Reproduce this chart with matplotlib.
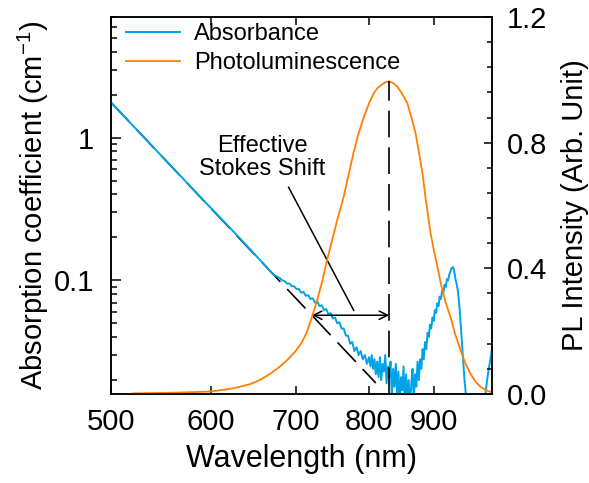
import matplotlib
matplotlib.use("Agg")
import matplotlib.pyplot as plt
import numpy as np
from matplotlib.ticker import (FixedLocator, FixedFormatter, LogLocator, MultipleLocator,
                               NullFormatter, NullLocator, FormatStrFormatter)

plt.rcParams['font.family'] = ['Liberation Sans', 'DejaVu Sans']
plt.rcParams['mathtext.default'] = 'regular'

# absorbance (left, log axis); one row of wl per row of val
abs_wl = [500, 540, 590, 630, 660, 672, 677, 680, 683, 686, 689, 692, 695, 698, 701, 704,
          707, 710, 713, 716, 719, 722, 725, 728, 731, 734, 737, 740, 743, 746, 749, 752,
          755, 758, 761, 764, 767, 770, 773, 776, 779, 782, 785, 788, 791, 794, 797, 800,
          802, 804, 806, 808, 810, 812, 814, 816, 818, 820, 822, 824, 826, 828, 830, 832,
          834, 836, 838, 840, 842, 844, 846, 848, 850, 852, 854, 856, 858, 860, 862, 864,
          866, 868, 870, 872, 874, 876, 878, 880, 882, 884, 886, 888, 890, 892, 894, 896,
          898, 900, 902, 904, 906, 908, 910, 912, 914, 916, 918, 920, 922, 924, 926, 928,
          930, 932, 934, 937, 940, 943, 946, 949, 952, 955, 958, 985, 989, 992, 995, 998,
          1000]
abs_val = [1.765, 0.858, 0.374, 0.204, 0.131, 0.110, 0.106, 0.104, 0.100, 0.099, 0.095, 0.095, 0.091, 0.091, 0.087, 0.087,
           0.082, 0.083, 0.078, 0.079, 0.074, 0.075, 0.070, 0.071, 0.066, 0.067, 0.062, 0.063, 0.058, 0.059, 0.054, 0.055,
           0.050, 0.051, 0.046, 0.046, 0.041, 0.041, 0.036, 0.037, 0.032, 0.034, 0.030, 0.032, 0.028, 0.030, 0.026, 0.029,
           0.025, 0.030, 0.024, 0.028, 0.022, 0.027, 0.021, 0.029, 0.020, 0.026, 0.023, 0.030, 0.019, 0.025, 0.021, 0.027,
           0.015, 0.024, 0.018, 0.026, 0.016, 0.023, 0.014, 0.021, 0.017, 0.025, 0.013, 0.022, 0.015, 0.020, 0.012, 0.019,
           0.024, 0.014, 0.022, 0.018, 0.027, 0.020, 0.028, 0.024, 0.033, 0.028, 0.037, 0.033, 0.043, 0.040, 0.049, 0.046,
           0.055, 0.052, 0.062, 0.059, 0.069, 0.066, 0.077, 0.074, 0.085, 0.082, 0.093, 0.090, 0.102, 0.100, 0.110, 0.116,
           0.122, 0.124, 0.118, 0.100, 0.088, 0.068, 0.045, 0.030, 0.020, 0.015, 0.010, 0.010, 0.016, 0.020, 0.024, 0.028,
           0.032]

# photoluminescence (right, linear axis)
pl_wl = [520, 560, 600, 625, 645, 656, 668, 680, 690, 700, 708, 714, 721, 728, 735, 741,
         748, 755, 764, 771, 778, 785, 792, 800, 807, 813, 820, 825, 830, 836, 842, 850,
         858, 865, 871, 877, 882, 887, 895, 900, 906, 912, 920, 928, 936, 945, 953, 962,
         971, 980, 990, 1000]
pl_val = [0.002, 0.004, 0.008, 0.018, 0.032, 0.045, 0.064, 0.087, 0.110, 0.137, 0.165, 0.195, 0.245, 0.300, 0.362, 0.425,
          0.490, 0.554, 0.628, 0.700, 0.770, 0.830, 0.878, 0.925, 0.958, 0.975, 0.987, 0.993, 0.995, 0.990, 0.979, 0.955,
          0.925, 0.875, 0.828, 0.760, 0.700, 0.620, 0.512, 0.460, 0.406, 0.350, 0.290, 0.246, 0.190, 0.140, 0.100, 0.066,
          0.040, 0.023, 0.012, 0.006]

# Urbach-type fit line and Stokes shift arrow
fit_wl = [500, 810]
fit_val = [1.765, 0.0191]
shift_start_wl = 721
shift_y = 0.057

x_ticks = [500, 600, 700, 800, 900]
left_ticks = [0.1, 1]
right_ticks = [0.0, 0.4, 0.8, 1.2]

BLUE = '#00A2E8'
ORANGE = '#FF8000'

fig = plt.figure(figsize=(5.89, 4.83), dpi=100)
ax = fig.add_axes([111 / 589, 1 - 394 / 483, 380.5 / 589, 377 / 483])
ax2 = ax.twinx()

ax.plot(fit_wl, fit_val, color='k', lw=1.2, ls=(0, (16, 6)), zorder=2)
ln_abs, = ax.plot(abs_wl, abs_val, color=BLUE, lw=1.4, zorder=3, label='Absorbance')
ln_pl, = ax2.plot(pl_wl, pl_val, color=ORANGE, lw=1.3, label='Photoluminescence')

peak = int(np.argmax(pl_val))
ax2.plot([pl_wl[peak], pl_wl[peak]], [0, pl_val[peak]], color='k', lw=1.2, ls=(0, (16, 6)))

ax.set_xscale('log')
ax.set_yscale('log')
ax.set_xlim(500, 1000)
ax.set_ylim(0.016, 7)
ax2.set_ylim(0, 1.2)

ax.xaxis.set_major_locator(FixedLocator(x_ticks))
ax.xaxis.set_major_formatter(FixedFormatter([str(t) for t in x_ticks]))
ax.xaxis.set_minor_locator(NullLocator())
ax.yaxis.set_major_locator(FixedLocator(left_ticks))
ax.yaxis.set_major_formatter(FixedFormatter(['0.1', '1']))
ax.yaxis.set_minor_locator(LogLocator(base=10, subs=np.arange(2, 10)))
ax.yaxis.set_minor_formatter(NullFormatter())
ax2.yaxis.set_major_locator(FixedLocator(right_ticks))
ax2.yaxis.set_major_formatter(FormatStrFormatter('%.1f'))
ax2.yaxis.set_minor_locator(MultipleLocator(0.08))

ax.tick_params(axis='x', which='major', direction='in', top=True, length=6, width=1.1,
               labelsize=21, pad=10)
ax.tick_params(axis='y', which='major', direction='in', right=False, length=7, width=1.1,
               labelsize=21, pad=12)
ax.tick_params(axis='y', which='minor', direction='in', right=False, length=4.3, width=1.1)
ax2.tick_params(axis='y', which='major', direction='in', length=6, width=1.1,
                labelsize=21, pad=11)
ax2.tick_params(axis='y', which='minor', direction='in', length=3.6, width=1.1)
for a in (ax, ax2):
    for s in a.spines.values():
        s.set_linewidth(1.1)

ax.set_xlabel('Wavelength (nm)', fontsize=22, labelpad=6)
ax.set_ylabel('Absorption coefficient (cm$^{-1}$)', fontsize=21, labelpad=2)
ax2.set_ylabel('PL Intensity (Arb. Unit)', fontsize=21, labelpad=10)

ax.text(659, 0.725, 'Effective\nStokes Shift', fontsize=17, ha='center', va='center',
        multialignment='center', linespacing=1.05)
ax.plot([691, 778], [0.449, 0.0617], color='k', lw=1.1)
ax.annotate('', xy=(pl_wl[peak], shift_y), xytext=(shift_start_wl, shift_y),
            arrowprops=dict(arrowstyle='<->,head_length=0.6,head_width=0.3', color='k',
                            lw=1.1, shrinkA=0, shrinkB=0, mutation_scale=10))

ax2.legend(handles=[ln_abs, ln_pl], loc='upper left', bbox_to_anchor=(0.039, 0.984),
           frameon=False, fontsize=17, handlelength=2.3, handletextpad=0.6,
           labelspacing=0.3, borderpad=0, borderaxespad=0)

fig.savefig('out.png', dpi=100)
